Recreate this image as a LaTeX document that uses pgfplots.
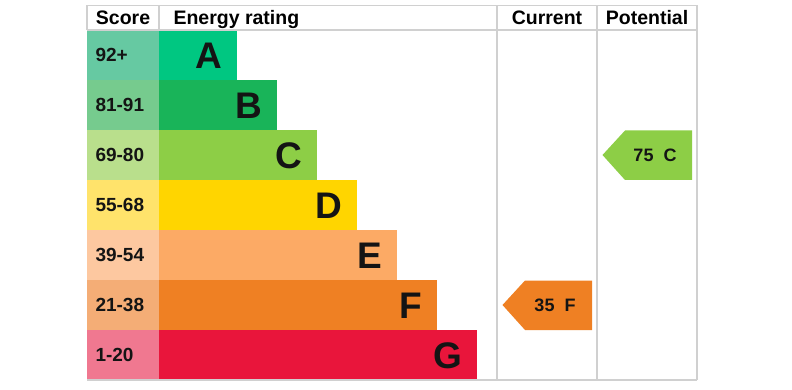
\documentclass[border=0pt]{standalone}
\usepackage{pgfplots}
\pgfplotsset{compat=1.18}
\usepackage{fontspec}
\setmainfont{Liberation Sans}
\definecolor{cA}{HTML}{00C781}\definecolor{sA}{HTML}{66C9A2}
\definecolor{cB}{HTML}{19B459}\definecolor{sB}{HTML}{76CB8E}
\definecolor{cC}{HTML}{8DCE46}\definecolor{sC}{HTML}{B9DF8C}
\definecolor{cD}{HTML}{FFD500}\definecolor{sD}{HTML}{FFE36B}
\definecolor{cE}{HTML}{FCAA65}\definecolor{sE}{HTML}{FDC8A0}
\definecolor{cF}{HTML}{EF8023}\definecolor{sF}{HTML}{F4AD76}
\definecolor{cG}{HTML}{E9153B}\definecolor{sG}{HTML}{F07890}
\definecolor{gridc}{HTML}{D0D0D0}
\newcommand{\fs}[1]{\fontsize{#1}{#1}\selectfont\bfseries}
\begin{document}
\begin{tikzpicture}
\begin{axis}[
  scale only axis, width=792pt, height=390pt,
  xmin=0, xmax=792, ymin=0, ymax=390, y dir=reverse,
  axis lines=none, ticks=none, clip=false,
]
% full canvas (invisible)
\addplot[draw=none, fill=white] coordinates {(0,0) (792,0) (792,390) (0,390)} --cycle;
% score cells
\addplot[fill=sA, draw=none] coordinates {(87,30) (159,30) (159,80) (87,80)} --cycle;
\addplot[fill=sB, draw=none] coordinates {(87,80) (159,80) (159,130) (87,130)} --cycle;
\addplot[fill=sC, draw=none] coordinates {(87,130) (159,130) (159,180) (87,180)} --cycle;
\addplot[fill=sD, draw=none] coordinates {(87,180) (159,180) (159,230) (87,230)} --cycle;
\addplot[fill=sE, draw=none] coordinates {(87,230) (159,230) (159,280) (87,280)} --cycle;
\addplot[fill=sF, draw=none] coordinates {(87,280) (159,280) (159,330) (87,330)} --cycle;
\addplot[fill=sG, draw=none] coordinates {(87,330) (159,330) (159,380) (87,380)} --cycle;
% bars
\addplot[fill=cA, draw=none] coordinates {(159,30) (237,30) (237,80) (159,80)} --cycle;
\addplot[fill=cB, draw=none] coordinates {(159,80) (277,80) (277,130) (159,130)} --cycle;
\addplot[fill=cC, draw=none] coordinates {(159,130) (317,130) (317,180) (159,180)} --cycle;
\addplot[fill=cD, draw=none] coordinates {(159,180) (357,180) (357,230) (159,230)} --cycle;
\addplot[fill=cE, draw=none] coordinates {(159,230) (397,230) (397,280) (159,280)} --cycle;
\addplot[fill=cF, draw=none] coordinates {(159,280) (437,280) (437,330) (159,330)} --cycle;
\addplot[fill=cG, draw=none] coordinates {(159,330) (477,330) (477,380) (159,380)} --cycle;
% grid lines
\addplot[gridc, line width=1.5pt] coordinates {(87,5.5) (697,5.5)};
\addplot[gridc, line width=1.5pt] coordinates {(87,30) (697,30)};
\addplot[gridc, line width=1.5pt] coordinates {(87,380) (697,380)};
\addplot[gridc, line width=1.5pt] coordinates {(87,5.5) (87,30)};
\addplot[gridc, line width=1.5pt] coordinates {(159,5.5) (159,30)};
\addplot[gridc, line width=1.5pt] coordinates {(497,5.5) (497,380)};
\addplot[gridc, line width=1.5pt] coordinates {(597,5.5) (597,380)};
\addplot[gridc, line width=1.5pt] coordinates {(697,5.5) (697,380)};
% arrows
\addplot[fill=cF, draw=none] coordinates {(502.5,305) (525,280.5) (592,280.5) (592,330) (525,330)} --cycle;
\addplot[fill=cC, draw=none] coordinates {(602.5,155) (625,130.5) (692,130.5) (692,180) (625,180)} --cycle;
% header text
\node[anchor=base] at (axis cs:123,24.5) {\fs{19.5}Score};
\node[anchor=base west] at (axis cs:170,24.5) {\fs{19.5}Energy rating};
\node[anchor=base] at (axis cs:547,24.5) {\fs{19.5}Current};
\node[anchor=base] at (axis cs:647,24.5) {\fs{19.5}Potential};
% score text
\node[anchor=west, text=black!92] at (axis cs:92,55) {\fs{19}92+};
\node[anchor=west, text=black!92] at (axis cs:92,105) {\fs{19}81-91};
\node[anchor=west, text=black!92] at (axis cs:92,155) {\fs{19}69-80};
\node[anchor=west, text=black!92] at (axis cs:92,205) {\fs{19}55-68};
\node[anchor=west, text=black!92] at (axis cs:92,255) {\fs{19}39-54};
\node[anchor=west, text=black!92] at (axis cs:92,305) {\fs{19}21-38};
\node[anchor=west, text=black!92] at (axis cs:92,355) {\fs{19}1-20};
% letters
\node[anchor=east, text=black!92] at (axis cs:226,56) {\fs{37}A};
\node[anchor=east, text=black!92] at (axis cs:266,106) {\fs{37}B};
\node[anchor=east, text=black!92] at (axis cs:306,156) {\fs{37}C};
\node[anchor=east, text=black!92] at (axis cs:346,206) {\fs{37}D};
\node[anchor=east, text=black!92] at (axis cs:386,256) {\fs{37}E};
\node[anchor=east, text=black!92] at (axis cs:426,306) {\fs{37}F};
\node[anchor=east, text=black!92] at (axis cs:466,356) {\fs{37}G};
% arrow text
\node[anchor=center, text=black!92] at (axis cs:555,305) {\fs{18}35\ \ F};
\node[anchor=center, text=black!92] at (axis cs:655,155) {\fs{18}75\ \ C};
\end{axis}
\end{tikzpicture}
\end{document}
